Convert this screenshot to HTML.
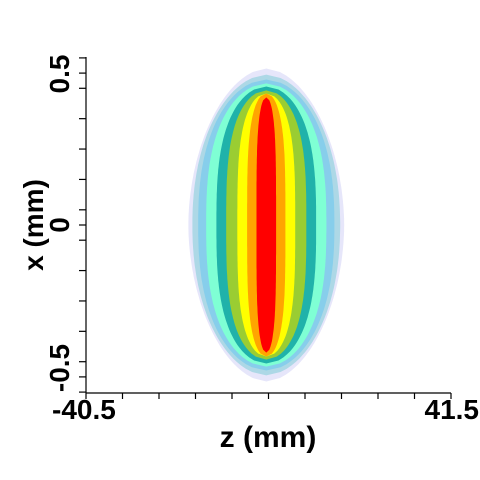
<!DOCTYPE html>
<html><head><meta charset="utf-8"><style>
html,body{margin:0;padding:0;background:#fff;width:480px;height:480px;overflow:hidden}
svg text{font-family:"Liberation Sans",Arial,sans-serif;font-weight:bold;fill:#000}
</style></head><body>
<svg id="chart" width="480" height="480" viewBox="0 0 480 480" xmlns="http://www.w3.org/2000/svg">
<g id="contours"></g>
<g id="axes"></g>
<text transform="translate(69,74) rotate(-90)" text-anchor="middle" font-size="28">0.5</text>
<text transform="translate(69,225) rotate(-90)" text-anchor="middle" font-size="28">0</text>
<text transform="translate(69,368) rotate(-90)" text-anchor="middle" font-size="28">-0.5</text>
<text transform="translate(43,225) rotate(-90)" text-anchor="middle" font-size="28">x (mm)</text>
<text x="52" y="419" font-size="28">-40.5</text>
<text x="479" y="419" text-anchor="end" font-size="28">41.5</text>
<text x="268" y="447" text-anchor="middle" font-size="30">z (mm)</text>
</svg>
<script>
const levelColors = ["#e6e6fa","#add8e6","#87ceeb","#7fffd4","#20b2aa","#9acd32","#ffff00","#ffa500","#ff0000"];
const halfWidths = [17.5,16.6,15.3,13.5,11.2,9.0,6.5,4.3,2.2];
const halfHeights = [0.515,0.495,0.479,0.466,0.456,0.443,0.433,0.433,0.42];
const zTicks = [-40.5,-32.3,-24.1,-15.9,-7.7,0.5,8.7,16.9,25.1,33.3,41.5];
const xTicks = [0.55,0.5,0.45,0.35,0.25,0.15,0.05,0,-0.05,-0.15,-0.25,-0.35,-0.45,-0.5,-0.55];
const zMin=-40.5,zMax=41.5,xMin=-0.553,xMax=0.553;
const L=86,R=451,T=57,B=393;
function sx(z){return L+(z-zMin)/(zMax-zMin)*(R-L);}
function sy(x){return B-(x-xMin)/(xMax-xMin)*(B-T);}
const NS="http://www.w3.org/2000/svg";
const cg=document.getElementById('contours');
const zc=0, xc=0;
levelColors.forEach((col,i)=>{
  const hw=halfWidths[i], hh=halfHeights[i];
  const p = 1.9+i*0.25, q = 0.55-i*0.01;
  const pts=[];
  const N=90;
  const f=x=>Math.pow(Math.max(0,1-Math.pow(Math.abs(x)/hh,p)),q);
  for(let k=0;k<=N;k++){
    const x=hh-2*hh*k/N;
    pts.push([sx(zc+hw*f(x)),sy(xc+x)]);
  }
  for(let k=N;k>=0;k--){
    const x=hh-2*hh*k/N;
    pts.push([sx(zc-hw*f(x)),sy(xc+x)]);
  }
  const poly=document.createElementNS(NS,'polygon');
  poly.setAttribute('points',pts.map(p=>p[0].toFixed(1)+','+p[1].toFixed(1)).join(' '));
  poly.setAttribute('fill',col);
  
  
  cg.appendChild(poly);
});
const ag=document.getElementById('axes');
function line(x1,y1,x2,y2,name){
  const l=document.createElementNS(NS,'line');
  l.setAttribute('x1',x1);l.setAttribute('y1',y1);l.setAttribute('x2',x2);l.setAttribute('y2',y2);
  l.setAttribute('stroke','#000');l.setAttribute('stroke-width','1.2');
  
  
  ag.appendChild(l);
}
line(L,T,L,B,'y-axis-line');
line(L,B,R,B,'x-axis-line');
zTicks.forEach(z=>line(sx(z),B,sx(z),B+6,'x-tick'));
xTicks.forEach(x=>line(L-7,sy(x),L,sy(x),'y-tick'));
</script>
</body></html>
